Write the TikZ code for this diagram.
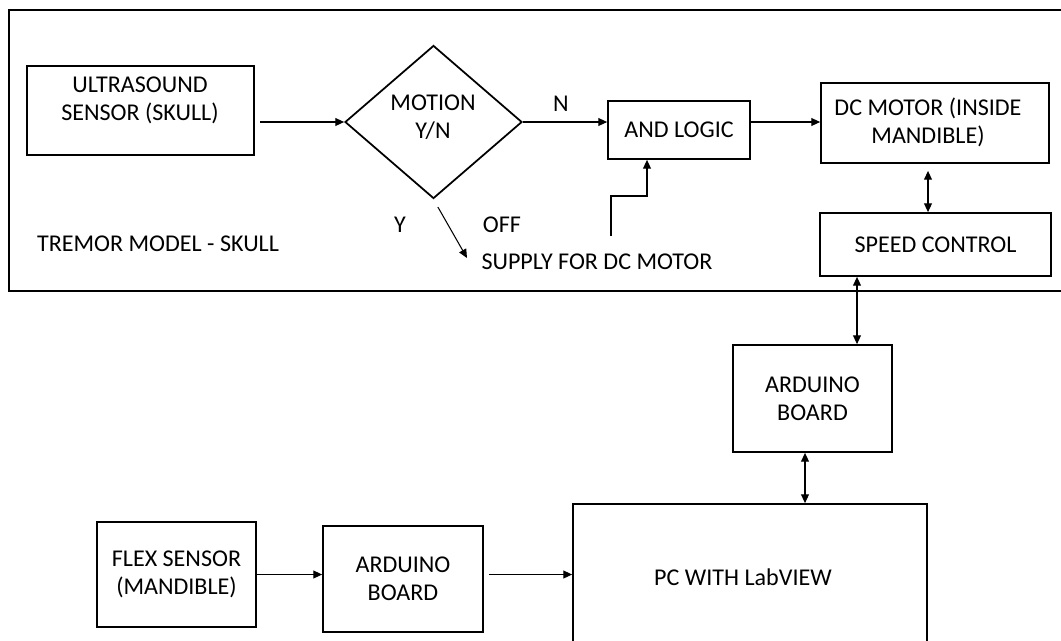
\documentclass[tikz,border=0pt]{standalone}
\usepackage{fontspec}
\setmainfont{Carlito}
\usetikzlibrary{shapes.geometric,arrows.meta,calc}
\begin{document}
\begin{tikzpicture}[x=0.02cm,y=-0.02cm,
  font=\fontsize{13.7}{16}\selectfont,
  blk/.style n args={2}{draw, line width=1pt, inner sep=0pt, align=center,
      minimum width=#1*0.02cm, minimum height=#2*0.02cm},
  arr/.style={line width=0.6pt, -{Triangle[length=5pt,width=4.5pt]}},
  darr/.style={line width=0.6pt, {Triangle[length=5pt,width=4.5pt]}-{Triangle[length=5pt,width=4.5pt]}},
  lbl/.style={inner sep=0pt}]
\useasboundingbox (0,0) rectangle (1061,640);
\clip (0,0) rectangle (1061,640);
% outer frame
\draw[line width=1pt] (9,10) rectangle (1080,291);
% nodes
\node[blk={227}{89}] (us) at (140.5,110.5) {};
\node[lbl, align=center] (ust) at (140,100) {ULTRASOUND\\SENSOR (SKULL)};
\node[draw, diamond, line width=1pt, inner sep=0pt, minimum width=177*0.02cm, minimum height=153*0.02cm] (dia) at (433.5,122) {};
\node[lbl, align=center] (diat) at (433,117) {MOTION\\Y/N};
\node[blk={142}{58}] (and) at (679,130) {AND LOGIC};
\node[blk={228}{80}] (dcm) at (935,123) {};
\node[lbl, align=center] (dcmt) at (928,122) {DC MOTOR (INSIDE\\MANDIBLE)};
\node[blk={231}{63}] (sc) at (935.5,244.5) {SPEED CONTROL};
\node[blk={159}{107}] (ard1) at (812.5,398.5) {ARDUINO\\BOARD};
\node[blk={354}{170}] (pc) at (750,589) {};
\node[lbl] (pct) at (743,577) {PC WITH LabVIEW};
\node[blk={159}{105}] (flex) at (176.5,574.5) {FLEX SENSOR\\(MANDIBLE)};
\node[blk={160}{106}] (ard2) at (403,579) {ARDUINO\\BOARD};
% labels
\node[lbl] (n) at (561,104) {N};
\node[lbl] (y) at (400,225) {Y};
\node[lbl] (off) at (502,225) {OFF};
\node[lbl] (sup) at (597,262) {SUPPLY FOR DC MOTOR};
\node[lbl] (trem) at (158,244) {TREMOR MODEL - SKULL};
% coordinates
\coordinate (fb) at (611,236);
\coordinate (fbk) at (647,196);
\coordinate (ye) at (467,258);
\coordinate (c1) at (928,0);
\coordinate (c2) at (857,0);
\coordinate (c3) at (805,0);
% connectors
\draw[arr, shorten <=3pt] (us.east |- dia.west) -- (dia.west);
\draw[arr] (dia.east) -- (and.west |- dia.east);
\draw[arr] (and.east |- dia.east) -- (dcm.west |- dia.east);
\draw[darr, shorten <=4pt] (dcm.south -| c1) -- (sc.north -| c1);
\draw[arr] (fb) |- (fbk) -- (and.south -| fbk);
\draw[arr, shorten <=5pt] (dia.south) -- (ye);
\draw[darr] (sc.south -| c2) -- (ard1.north -| c2);
\draw[darr] (ard1.south -| c3) -- (pc.north -| c3);
\draw[arr] (flex.east) -- (ard2.west |- flex.east);
\draw[arr, shorten <=3pt] (ard2.east |- flex.east) -- (pc.west |- flex.east);
\end{tikzpicture}
\end{document}
